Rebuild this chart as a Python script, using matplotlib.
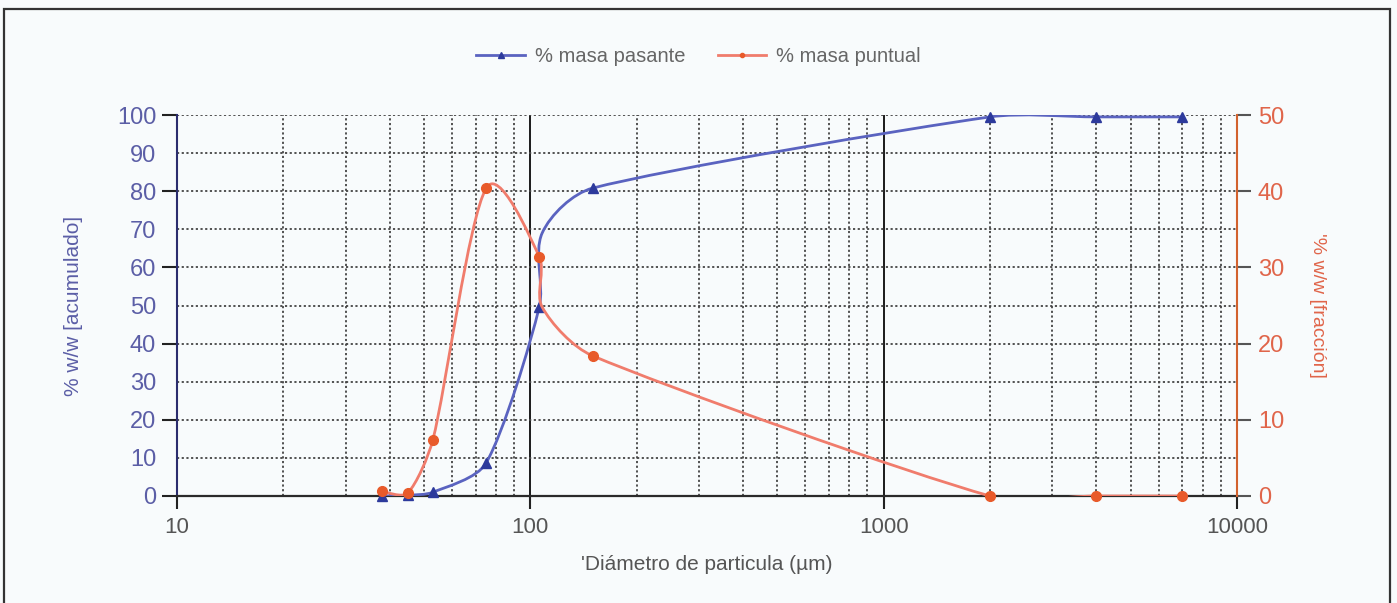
import numpy as np
import matplotlib
matplotlib.use("Agg")
import matplotlib.pyplot as plt
from matplotlib.path import Path
from matplotlib.patches import PathPatch, Rectangle
from matplotlib.lines import Line2D
from matplotlib.ticker import FixedLocator, MultipleLocator, FormatStrFormatter, NullFormatter

plt.rcParams['font.family'] = ['Liberation Sans', 'DejaVu Sans']

# Particle size distribution (sieve diameters in micrometres)
diametro = [38, 45, 53, 75, 106, 108, 150, 2000, 4000, 7000]
masa_pasante = [0.0, 0.2, 1.0, 8.7, 49.6, 69.0, 80.8, 99.5, 99.5, 99.5]
masa_puntual = [0.6, 0.4, 7.4, 40.4, 31.4, 24.8, 18.4, 0.0, 0.0, 0.0]
marcados = [0, 1, 2, 3, 4, 6, 7, 8, 9]

x_ticks = [10, 100, 1000, 10000]
x_labels = ["10", "100", "1000", "10000"]

BLUE_LINE = '#5a63c0'
BLUE_MARK = '#2d3a9c'
BLUE_TEXT = '#5b5ea6'
RED_LINE = '#f07c6c'
RED_MARK = '#e85a2a'
RED_TEXT = '#e0654a'
BG = '#f8fbfc'


def smooth_path(ax, x, y, k=0.3):
    """Catmull-Rom style Bezier curve in screen space, with the control
    handles limited to a fraction of each segment's length."""
    pts = ax.transData.transform(np.column_stack([x, y]).astype(float))
    n = len(pts)
    tang = np.array([(pts[min(i + 1, n - 1)] - pts[max(i - 1, 0)]) / 6.0 for i in range(n)])
    verts = [pts[0]]
    codes = [Path.MOVETO]
    for i in range(n - 1):
        L = np.hypot(*(pts[i + 1] - pts[i]))
        h = []
        for t in (tang[i], tang[i + 1]):
            ln = np.hypot(*t)
            h.append(t * (k * L / ln) if ln > k * L and ln > 0 else t)
        verts += [pts[i] + h[0], pts[i + 1] - h[1], pts[i + 1]]
        codes += [Path.CURVE4] * 3
    data = ax.transData.inverted().transform(np.array(verts))
    return Path(data, codes)


fig = plt.figure(figsize=(13.97, 6.03), dpi=100, facecolor=BG)
ax1 = fig.add_axes([177 / 1397, 107 / 603, 1060 / 1397, 381 / 603])
ax1.set_facecolor(BG)
ax2 = ax1.twinx()

ax1.set_xscale('log')
ax1.set_xlim(10, 10000)
ax1.set_ylim(0, 100)
ax2.set_ylim(0, 50)

# grid
ax1.xaxis.set_major_locator(FixedLocator(x_ticks))
ax1.xaxis.set_major_formatter(matplotlib.ticker.FixedFormatter(x_labels))
ax1.xaxis.set_minor_locator(matplotlib.ticker.LogLocator(base=10, subs=np.arange(2, 10)))
ax1.xaxis.set_minor_formatter(NullFormatter())
ax1.grid(True, which='major', axis='x', color='#1a1a1a', lw=1.4, ls='-')
ax1.grid(True, which='minor', axis='x', color='#444444', lw=1.3, ls=(0, (1.2, 1.4)))
ax1.yaxis.set_major_locator(MultipleLocator(20))
ax1.yaxis.set_minor_locator(MultipleLocator(10))
ax1.yaxis.set_major_formatter(FormatStrFormatter('%d'))
ax1.yaxis.set_minor_formatter(FormatStrFormatter('%d'))
ax1.grid(True, which='both', axis='y', color='#444444', lw=1.3, ls=(0, (1.2, 1.4)))
ax1.set_axisbelow(True)

# series
p1 = PathPatch(smooth_path(ax1, diametro, masa_pasante), fill=False, ec=BLUE_LINE, lw=2.0, zorder=3)
ax1.add_patch(p1)
ax1.plot(diametro, masa_pasante, ls='none', marker='^', ms=7, color=BLUE_MARK,
         markevery=marcados, clip_on=False, zorder=4)
p2 = PathPatch(smooth_path(ax2, diametro, masa_puntual), fill=False, ec=RED_LINE, lw=2.0, zorder=3)
ax2.add_patch(p2)
ax2.plot(diametro, masa_puntual, ls='none', marker='o', ms=7, color=RED_MARK,
         markevery=marcados, clip_on=False, zorder=4)

# spines and ticks
for s in ['top', 'right']:
    ax1.spines[s].set_visible(False)
ax2.spines['top'].set_visible(False)
ax2.spines['left'].set_visible(False)
ax2.spines['bottom'].set_visible(False)
ax1.spines['left'].set_color('#2b2d6e')
ax1.spines['left'].set_linewidth(1.5)
ax1.spines['bottom'].set_color('#2a2a2a')
ax1.spines['bottom'].set_linewidth(1.6)
ax2.spines['right'].set_color('#d2622e')
ax2.spines['right'].set_linewidth(1.5)

ax1.tick_params(axis='y', which='major', length=11, width=1.5, color='#222222',
                labelcolor=BLUE_TEXT, labelsize=17, pad=4)
ax1.tick_params(axis='y', which='minor', length=0, labelcolor=BLUE_TEXT, labelsize=17, pad=15)
ax1.tick_params(axis='x', which='major', length=9, width=1.5, color='#222222',
                labelcolor='#555555', labelsize=16, pad=6)
ax1.tick_params(axis='x', which='minor', length=0)
ax2.yaxis.set_major_locator(MultipleLocator(10))
ax2.tick_params(axis='y', length=10, width=1.5, color='#555555',
                labelcolor=RED_TEXT, labelsize=17, pad=5)

ax1.set_xlabel("'Diámetro de particula (µm)", fontsize=15, color='#555555', labelpad=12)
ax1.set_ylabel("% w/w [acumulado]", fontsize=15, color=BLUE_TEXT, labelpad=24)
ax2.set_ylabel("'% w/w [fracción]", fontsize=14, color=RED_TEXT, rotation=270, labelpad=30)

# legend
handles = [Line2D([], [], color=BLUE_LINE, lw=2, marker='^', ms=4, mfc=BLUE_MARK, mec=BLUE_MARK),
           Line2D([], [], color=RED_LINE, lw=2, marker='o', ms=3, mfc=RED_MARK, mec=RED_MARK)]
fig.legend(handles, ['% masa pasante', '% masa puntual'], loc='center',
           bbox_to_anchor=(0.5, 1 - 57 / 603), ncol=2, frameon=False, fontsize=14.5,
           labelcolor='#666666', handlelength=2.4, columnspacing=1.6, handletextpad=0.5)

# outer frame
fig.add_artist(Rectangle((4 / 1397, -0.02), 1386 / 1397, 1.02 - 9 / 603,
                         transform=fig.transFigure, fill=False, ec='#333333', lw=1.6))

fig.savefig('out.png', dpi=100, facecolor=BG)
